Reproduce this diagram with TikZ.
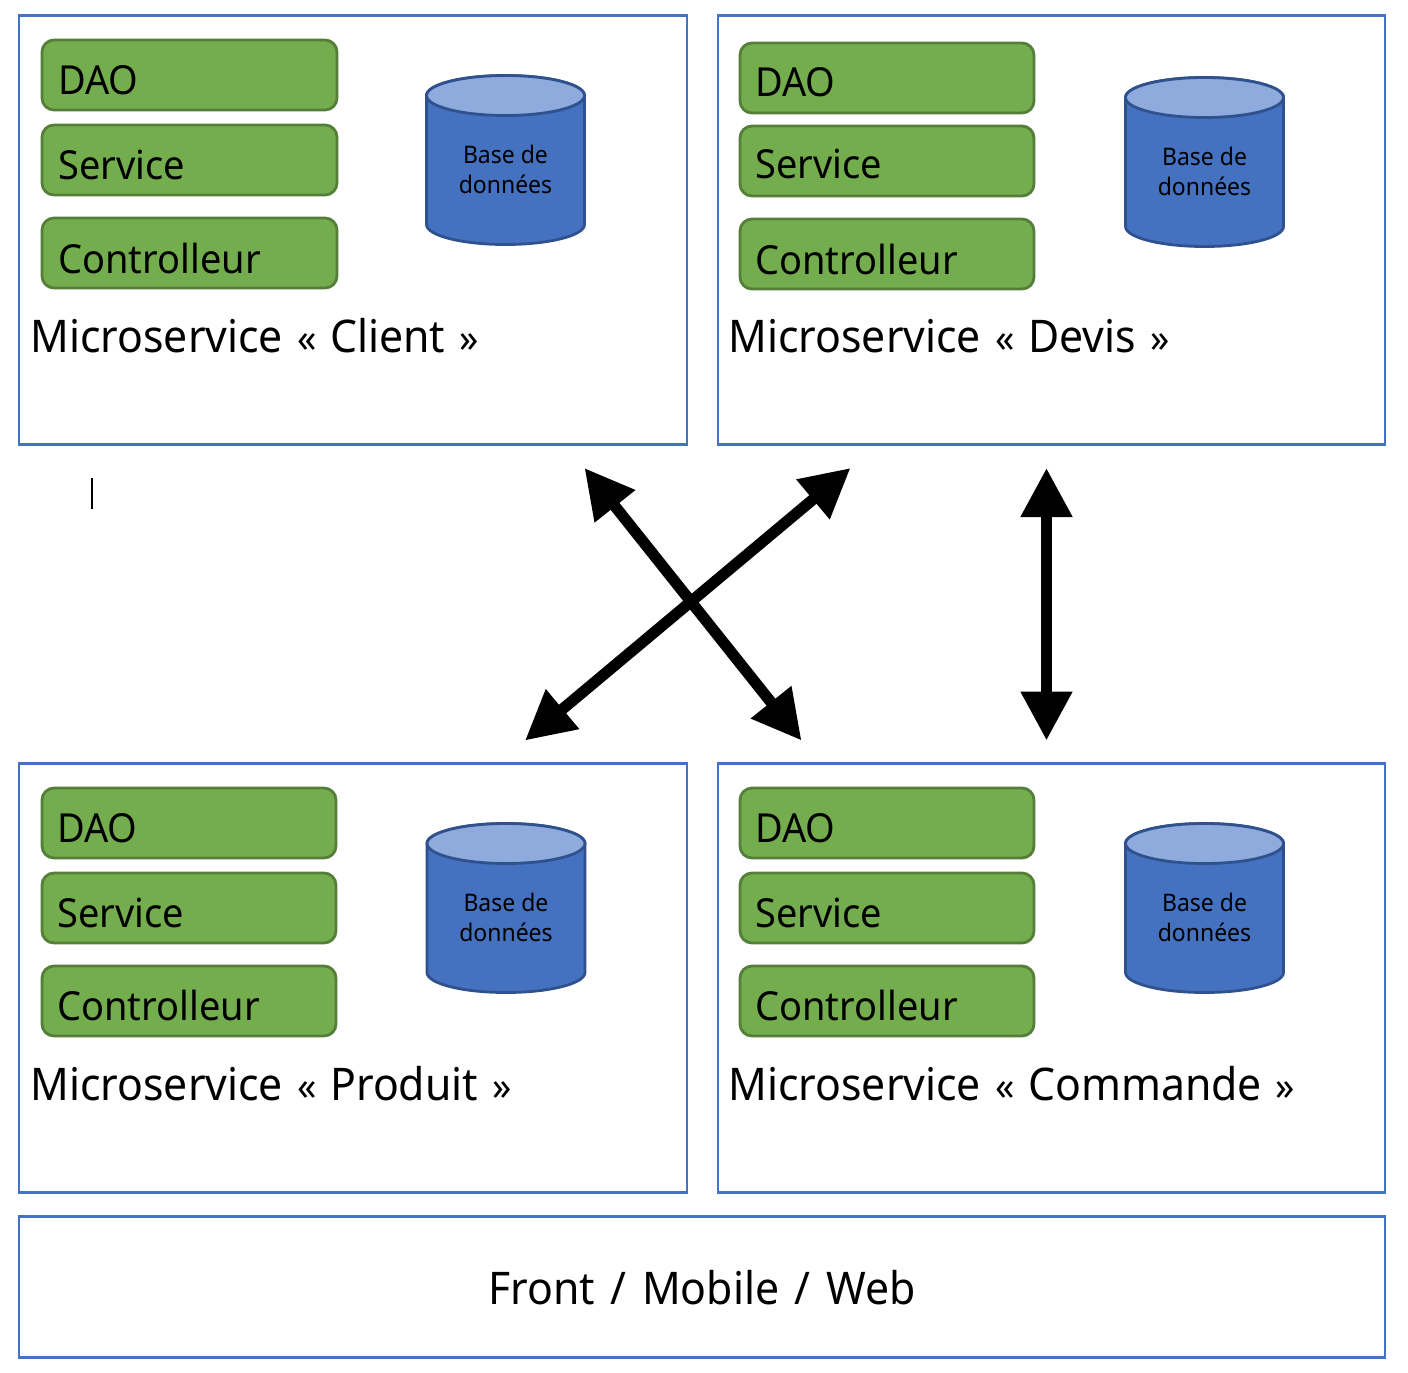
\documentclass[tikz,border=0pt]{standalone}
\usepackage{fontspec}
\setmainfont[FakeStretch=0.95]{Noto Sans}
\usetikzlibrary{arrows.meta,shapes.geometric}
\definecolor{frameblue}{HTML}{4472C4}
\definecolor{greenfill}{HTML}{74AD4E}
\definecolor{greenline}{HTML}{557F38}
\definecolor{dbfill}{HTML}{4472C0}
\definecolor{dbtop}{HTML}{8FAADC}
\definecolor{dbline}{HTML}{2F528F}
\tikzset{
  x=0.5pt,y=-0.5pt,
  panel/.style={draw=frameblue,line width=1.4pt,fill=white,minimum width=334pt,inner sep=0pt,outer sep=0pt},
  layerbox/.style={draw=greenline,line width=1.4pt,fill=greenfill,rounded corners=6pt,minimum width=147pt,minimum height=35pt,inner sep=0pt,outer sep=0pt,anchor=north west},
  layertext/.style={font=\fontsize{20}{24}\selectfont,anchor=west,inner sep=0pt},
  svctext/.style={font=\fontsize{22.5}{26}\selectfont,anchor=west,inner sep=0pt},
  dbtext/.style={font=\fontsize{12.1}{15}\selectfont,align=center,inner sep=0pt},
  link/.style={line width=5.6pt,{Triangle[length=24.5pt,width=24.5pt]}-{Triangle[length=24.5pt,width=24.5pt]}},
}
\newcommand{\gll}{\hspace{7pt}{\fontsize{20}{20}\selectfont «}\hspace{7pt}}
\newcommand{\grr}{\hspace{7pt}{\fontsize{20}{20}\selectfont »}}
\newcommand{\sepslash}{\hspace{2.3pt} / \hspace{2.3pt}}
\newcommand{\dbcyl}[3]{% x center, y top, name
  \path[draw=dbline,line width=1.4pt,fill=dbfill] (#1-79,#2+20) -- (#1-79,#2+149)
    arc[x radius=39.5pt,y radius=10pt,start angle=180,end angle=360] -- (#1+79,#2+20)
    arc[x radius=39.5pt,y radius=10pt,start angle=0,end angle=180] -- cycle;
  \path[draw=dbline,line width=1.4pt,fill=dbtop] (#1,#2+20) ellipse[x radius=39.5pt,y radius=10pt];
  \node[dbtext] (#3) at (#1,#2+94) {Base de\\données};
}
\begin{document}
\begin{tikzpicture}
\useasboundingbox (0,0) rectangle (1408,1372);
\fill[white] (0,0) rectangle (1408,1372);
% panels
\node[panel,minimum height=214.5pt,anchor=north west] (pc) at (19,15.5) {};
\node[panel,minimum width=333.5pt,minimum height=214.5pt,anchor=north west] (pd) at (718,15.5) {};
\node[panel,minimum height=214.5pt,anchor=north west] (pp) at (19,763.5) {};
\node[panel,minimum width=333.5pt,minimum height=214.5pt,anchor=north west] (pm) at (718,763.5) {};
\node[panel,minimum width=683pt,minimum height=70.5pt,anchor=north west] (pf) at (19,1216.5) {};
% client
\node[layerbox,minimum width=147.5pt] (c1) at (42,40) {}; \node[layertext] at (58,80) {DAO};
\node[layerbox,minimum width=147.5pt] (c2) at (42,125) {}; \node[layertext] at (58,165) {Service};
\node[layerbox,minimum width=147.5pt] (c3) at (42,218) {}; \node[layertext] at (58,258) {Controlleur};
\dbcyl{505.5}{75.5}{cdb}
\node[svctext] (ct) at (30,336) {Microservice\gll Client\grr};
% devis
\node[layerbox] (d1) at (740,43) {}; \node[layertext] at (755,82) {DAO};
\node[layerbox] (d2) at (740,126) {}; \node[layertext] at (755,164) {Service};
\node[layerbox] (d3) at (740,219) {}; \node[layertext] at (755,259) {Controlleur};
\dbcyl{1204.5}{77.5}{ddb}
\node[svctext] (dt) at (728,336) {Microservice\gll Devis\grr};
% produit
\node[layerbox] (p1) at (42,788) {}; \node[layertext] at (57,828) {DAO};
\node[layerbox] (p2) at (42,873) {}; \node[layertext] at (57,913) {Service};
\node[layerbox] (p3) at (42,966) {}; \node[layertext] at (57,1005) {Controlleur};
\dbcyl{506}{823.5}{pdb}
\node[svctext] (pt) at (30,1084) {Microservice\gll Produit\grr};
% commande
\node[layerbox] (m1) at (740,788) {}; \node[layertext] at (755,828) {DAO};
\node[layerbox] (m2) at (740,873) {}; \node[layertext] at (755,913) {Service};
\node[layerbox] (m3) at (740,966) {}; \node[layertext] at (755,1005) {Controlleur};
\dbcyl{1204.5}{823.5}{mdb}
\node[svctext] (mt) at (728,1084) {Microservice\gll Commande\grr};
% front
\node[svctext,anchor=center] (ft) at (702,1288) {Front\sepslash Mobile\sepslash Web};
% connectors
\coordinate (a1) at (584.5,468); \coordinate (a2) at (801.5,740.5);
\coordinate (b1) at (850.5,468); \coordinate (b2) at (525,740.5);
\coordinate (e1) at (1046.5,468); \coordinate (e2) at (1046.5,740.5);
\draw[link] (a1) -- (a2);
\draw[link] (b1) -- (b2);
\draw[link] (e1) -- (e2);
\coordinate (k1) at (92,478); \coordinate (k2) at (92,509);
\draw[line width=1pt] (k1) -- (k2);
\end{tikzpicture}
\end{document}
